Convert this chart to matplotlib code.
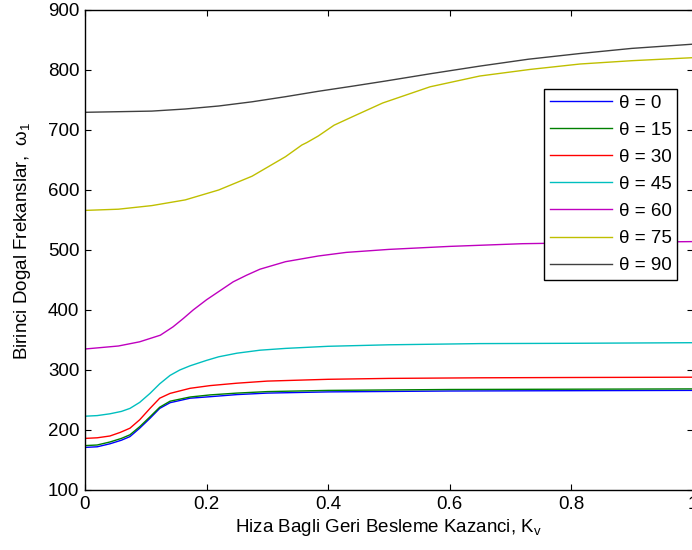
import numpy as np
import matplotlib
matplotlib.use('Agg')
import matplotlib.pyplot as plt

plt.rcParams['font.family'] = ['Liberation Sans', 'DejaVu Sans']
plt.rcParams['mathtext.fontset'] = 'custom'
plt.rcParams['mathtext.rm'] = 'Liberation Sans'

# values (Kv, omega_1)
k_0 = [0, 0.02, 0.041, 0.06, 0.074, 0.09, 0.107, 0.123, 0.14, 0.173, 0.206, 0.25, 0.3, 0.4, 0.6, 0.8, 1.0]
w_0 = [171, 172, 177, 183, 189, 203, 219.5, 236, 245.5, 253, 255.5, 259, 261.5, 263.5, 265, 265.5, 266]

k_15 = [0, 0.02, 0.041, 0.06, 0.074, 0.09, 0.107, 0.123, 0.14, 0.173, 0.206, 0.25, 0.3, 0.4, 0.6, 0.8, 1.0]
w_15 = [174, 175, 180, 186, 192, 205.5, 222, 238, 248, 255, 258.5, 261.5, 264, 266, 267.5, 268, 268.5]

k_30 = [0, 0.02, 0.041, 0.058, 0.074, 0.09, 0.107, 0.123, 0.14, 0.173, 0.206, 0.25, 0.3, 0.4, 0.5, 0.65, 0.8, 1.0]
w_30 = [186, 187, 190, 196, 203, 217, 236, 253, 261, 269.5, 274, 278, 281.5, 284.5, 286, 287, 287.5, 288]

k_45 = [0, 0.02, 0.041, 0.06, 0.074, 0.09, 0.107, 0.123, 0.14, 0.156, 0.173, 0.2, 0.22, 0.25, 0.288, 0.33, 0.4, 0.5, 0.65, 0.8, 1.0]
w_45 = [223, 224, 227, 231, 236, 246, 261, 277, 291, 300, 307, 316, 322, 328, 333, 336, 339.5, 342, 344, 344.5, 345.5]

k_60 = [0, 0.055, 0.09, 0.124, 0.145, 0.162, 0.178, 0.2, 0.222, 0.244, 0.266, 0.288, 0.33, 0.384, 0.43, 0.5, 0.6, 0.72, 0.85, 1.0]
w_60 = [335, 340, 347, 358, 372, 386, 400, 417, 432, 447, 458, 468, 480.5, 490, 496, 501, 506, 510.5, 512.5, 514]

k_75 = [0, 0.055, 0.11, 0.165, 0.22, 0.275, 0.33, 0.357, 0.365, 0.384, 0.41, 0.44, 0.49, 0.568, 0.65, 0.733, 0.815, 0.9, 1.0]
w_75 = [566, 568, 574, 583.5, 600, 623, 655.5, 675, 679, 690, 708, 722, 745, 772, 790, 801, 810, 815.5, 820.5]

k_90 = [0, 0.11, 0.165, 0.22, 0.275, 0.33, 0.384, 0.44, 0.494, 0.57, 0.65, 0.73, 0.815, 0.9, 1.0]
w_90 = [729.5, 731.5, 735, 740, 747, 755.5, 764.5, 773, 781.5, 794, 806.5, 818, 827.5, 836, 843]

thetas = [0, 15, 30, 45, 60, 75, 90]
colors = ['#0000ff', '#008000', '#ff0000', '#00bfbf', '#bf00bf', '#bfbf00', '#404040']
series = [(k_0, w_0), (k_15, w_15), (k_30, w_30), (k_45, w_45),
          (k_60, w_60), (k_75, w_75), (k_90, w_90)]

fs = 13.5

fig = plt.figure(figsize=(6.92, 5.5), dpi=100)
ax = fig.add_axes([85 / 692, 60 / 550, 607.5 / 692, 480 / 550])

for th, c, (k, w) in zip(thetas, colors, series):
    ax.plot(k, w, color=c, lw=1.0, label='θ = %d' % th)

ax.set_xlim(0, 1)
ax.set_ylim(100, 900)
ax.set_xticks([0, 0.2, 0.4, 0.6, 0.8, 1])
ax.set_xticklabels(['0', '0.2', '0.4', '0.6', '0.8', '1'])
ax.set_yticks(np.arange(100, 901, 100))
ax.tick_params(direction='in', length=4, width=0.8, top=True, right=True, labelsize=fs, pad=4)
for s in ax.spines.values():
    s.set_linewidth(1.0)

ax.set_xlabel(r'Hiza Bagli Geri Besleme Kazanci, K$_\mathregular{v}$', fontsize=fs, labelpad=3)
ax.set_ylabel(r'Birinci Dogal Frekanslar,  $\mathregular{ω_1}$', fontsize=fs)
ax.yaxis.set_label_coords(-0.086, 0.52)

leg = ax.legend(loc='upper right', bbox_to_anchor=(0.9745, 0.8354), borderaxespad=0,
                fontsize=fs, fancybox=False, framealpha=1, edgecolor='black',
                handlelength=3.3, handletextpad=0.35, labelspacing=0.53, borderpad=0.3)
leg.get_frame().set_linewidth(1.0)

fig.savefig('out.png', dpi=100)
